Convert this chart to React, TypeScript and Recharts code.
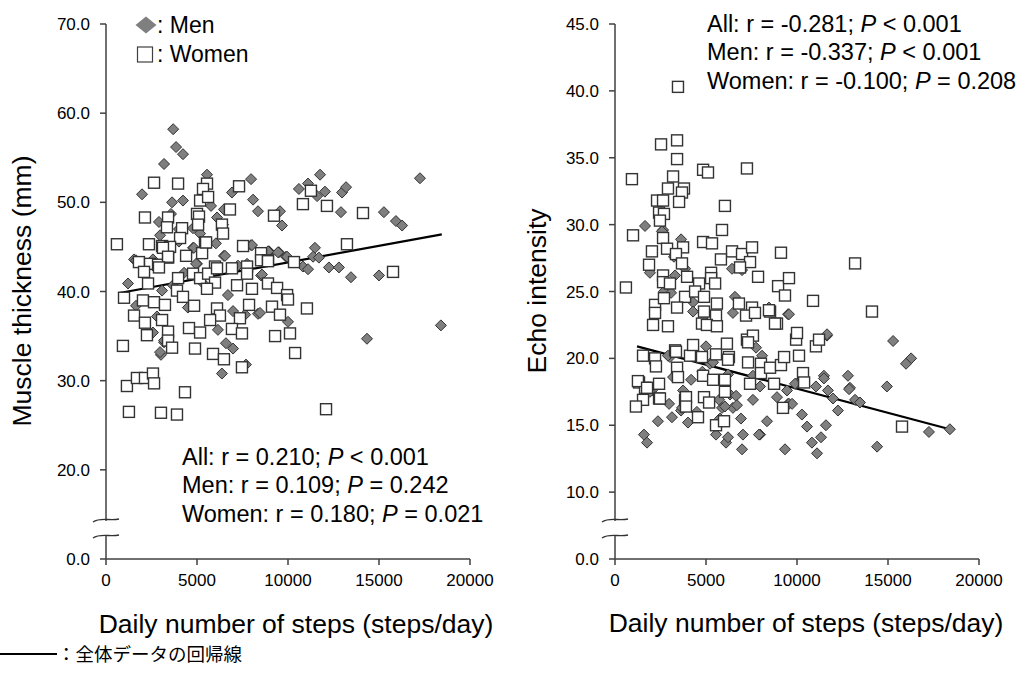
import React from 'react';
import { ScatterChart, Scatter, XAxis, YAxis, ReferenceLine } from 'recharts';

const FONT = '"Liberation Sans", Arial, sans-serif';

// x axis: daily steps
const stepTicks = [0, 5000, 10000, 15000, 20000];
// y axes: the lowest tick sits just under the axis break and is labelled 0.0
const thicknessTicks = [10, 20, 30, 40, 50, 60, 70];
const echoTicks = [5, 10, 15, 20, 25, 30, 35, 40, 45];
const thicknessBreakTick = 10;
const echoBreakTick = 5;

// [steps/day, muscle thickness mm]
const thicknessMen: [number, number][] = [
  [3690, 58.2], [3850, 56.2], [4230, 55.4], [3190, 54.3], [1980, 50.9], [3630, 50.0], [4230, 50.2],
  [5550, 53.1], [7970, 52.6], [8080, 50.3], [6920, 51.1], [8350, 49.0], [9560, 49.0], [9670, 47.4],
  [5770, 49.6], [3570, 48.7], [2910, 47.8], [4010, 47.0], [2970, 46.3], [6100, 48.3], [6430, 47.5],
  [6480, 49.2], [4780, 47.1], [6040, 45.4], [7970, 45.2], [8960, 44.5], [9500, 44.4], [4780, 44.9],
  [6480, 44.0], [1540, 43.6], [5000, 43.1], [8520, 41.8], [4290, 42.1], [1210, 40.9], [1650, 38.4],
  [6980, 37.8], [7640, 37.4], [8350, 37.5], [6150, 35.7], [2580, 35.4], [3190, 34.3], [3020, 32.9],
  [6590, 34.2], [6980, 33.6], [7690, 31.8], [6370, 30.8], [10000, 36.6], [11760, 53.1], [10600, 51.5],
  [11100, 52.1], [12030, 51.2], [11600, 50.7], [12970, 51.1], [13190, 51.7], [17250, 52.7], [12910, 48.9],
  [15270, 48.9], [15930, 47.9], [16270, 47.4], [11480, 44.9], [11380, 43.9], [11700, 43.8], [12250, 42.7],
  [12800, 42.7], [13460, 41.6], [15000, 41.8], [10820, 42.8], [11100, 42.5], [8950, 44.5], [9450, 44.4],
  [9890, 43.9], [18400, 36.2], [8460, 37.6], [14340, 34.7], [8570, 41.9], [1650, 43.5], [2580, 43.6],
  [4010, 45.6], [4830, 44.9], [5170, 46.5], [6540, 44.0], [4950, 43.1], [3680, 40.7], [3080, 40.1],
  [6700, 39.6], [7250, 42.9], [7750, 43.1], [8020, 45.2], [8900, 44.5], [9950, 43.9], [2970, 33.2],
  [3190, 34.5], [4500, 38.2], [5300, 41.0], [2800, 37.2],
];

const thicknessWomen: [number, number][] = [
  [2640, 52.2], [3960, 52.1], [2140, 48.3], [5170, 50.2], [5550, 52.1], [5330, 51.5], [5610, 50.6],
  [5000, 48.7], [5110, 48.4], [6810, 49.2], [7310, 51.8], [6370, 47.5], [3410, 48.3], [4180, 47.1],
  [600, 45.3], [2360, 45.3], [3350, 47.2], [4070, 46.0], [5060, 47.5], [5440, 45.5], [6430, 46.5],
  [7530, 45.1], [8520, 44.3], [9230, 48.5], [3080, 45.1], [3520, 45.0], [4400, 44.0], [5280, 44.3],
  [1810, 43.3], [2420, 43.1], [2860, 43.0], [2090, 42.2], [3410, 43.8], [5990, 42.8], [6920, 42.6],
  [7750, 42.8], [8520, 43.5], [8900, 43.5], [3130, 44.9], [3410, 43.9], [5500, 45.5], [8900, 43.4],
  [10330, 43.3], [2910, 42.7], [2310, 40.9], [3960, 41.5], [4780, 42.0], [5170, 41.5], [5610, 42.0],
  [6100, 42.6], [5990, 41.0], [7200, 40.7], [7750, 42.0], [8020, 40.3], [8900, 40.9], [9400, 40.4],
  [9950, 39.6], [10000, 39.1], [990, 39.3], [2030, 39.0], [2640, 38.8], [3240, 38.5], [3900, 40.1],
  [4230, 39.4], [4840, 38.4], [5550, 40.3], [6100, 38.1], [6260, 37.3], [7360, 37.0], [7860, 38.5],
  [9120, 38.3], [9560, 37.4], [11040, 38.1], [1540, 37.3], [2140, 36.5], [3080, 36.8], [3410, 35.5],
  [4560, 35.9], [5170, 35.4], [5720, 36.8], [6920, 35.8], [7470, 35.3], [2250, 35.1], [3410, 34.5],
  [3630, 33.7], [9290, 35.0], [10110, 35.3], [930, 33.9], [4890, 33.6], [5880, 33.0], [6480, 32.4],
  [10390, 33.1], [7470, 31.5], [1150, 29.4], [1700, 30.3], [2140, 30.3], [2580, 30.8], [2640, 29.7],
  [4340, 28.7], [1260, 26.5], [3020, 26.4], [3900, 26.2], [12090, 26.8], [11260, 51.3], [10820, 49.8],
  [12140, 49.6], [14120, 48.8], [13240, 45.3], [15770, 42.2],
];

// [steps/day, echo intensity]
const echoMen: [number, number][] = [
  [1650, 29.9], [2640, 29.6], [3630, 28.9], [3240, 27.6], [1920, 26.4], [3850, 26.7], [3300, 26.2],
  [6430, 26.7], [6980, 26.6], [2690, 25.0], [3080, 24.9], [4290, 24.2], [4290, 23.5], [6480, 23.4],
  [6590, 24.6], [8460, 23.8], [9510, 23.3], [2580, 29.5], [11650, 21.7], [5000, 20.9], [7750, 20.8],
  [8080, 20.2], [3020, 20.1], [5220, 19.6], [6210, 18.8], [4180, 18.4], [3190, 18.6], [2030, 17.6],
  [3740, 17.6], [2970, 16.6], [3630, 16.1], [5720, 16.9], [6320, 17.3], [6650, 17.2], [5880, 16.3],
  [6480, 16.3], [7580, 16.9], [7970, 17.9], [8900, 17.1], [9950, 18.1], [9510, 16.6], [10270, 15.8],
  [11040, 17.9], [11480, 18.7], [11700, 17.6], [12800, 18.7], [12910, 17.8], [12250, 16.1], [13190, 16.9],
  [2910, 20.2], [5390, 19.7], [7580, 18.7], [1920, 17.5], [3680, 16.3], [2360, 15.3], [3130, 15.6],
  [4010, 15.2], [1590, 14.3], [1760, 13.7], [5550, 14.3], [6100, 13.7], [6210, 14.1], [6700, 16.5],
  [6920, 15.5], [7030, 14.3], [6980, 13.2], [7970, 14.3], [8350, 15.3], [9560, 16.6], [9340, 13.2],
  [5770, 15.5], [6040, 16.4], [9560, 23.3], [11650, 21.8], [15280, 21.3], [16270, 20.0], [15990, 19.6],
  [12860, 17.7], [14940, 17.9], [11480, 18.5], [9890, 18.1], [9450, 17.6], [11980, 17.0], [13460, 16.7],
  [9730, 16.6], [10550, 14.9], [11590, 15.0], [11320, 14.1], [10820, 13.7], [11100, 12.9], [14400, 13.4],
  [17250, 14.5], [18400, 14.7], [7910, 14.3], [4800, 19.0], [4500, 16.0],
];

const echoWomen: [number, number][] = [
  [3460, 40.3], [3410, 36.3], [2530, 36.0], [3410, 34.9], [930, 33.4], [3190, 33.6], [4840, 34.1],
  [5110, 33.9], [2910, 32.7], [3790, 32.7], [3680, 32.4], [2310, 31.8], [2640, 31.8], [3520, 31.7],
  [6040, 31.4], [2420, 30.9], [2690, 30.8], [2470, 30.3], [5880, 29.6], [990, 29.2], [7250, 34.2],
  [2640, 29.0], [2030, 28.0], [2860, 28.2], [3740, 28.3], [3350, 27.8], [4840, 28.7], [5330, 28.6],
  [6430, 28.0], [6980, 27.8], [7530, 28.3], [7420, 27.2], [5820, 27.4], [9120, 27.9], [3680, 27.1],
  [1870, 27.0], [6870, 26.8], [600, 25.3], [2640, 26.2], [2640, 25.7], [3020, 25.6], [3960, 26.1],
  [5280, 26.4], [5280, 26.0], [5500, 25.6], [4620, 25.6], [7860, 26.1], [8960, 25.4], [9560, 26.0],
  [9340, 24.7], [2200, 24.0], [2200, 23.4], [2690, 24.5], [3850, 24.6], [4400, 25.0], [4890, 24.6],
  [5600, 24.1], [3410, 23.8], [4890, 23.5], [5550, 23.2], [6810, 24.1], [7530, 23.8], [7200, 23.2],
  [8520, 23.5], [8900, 22.6], [2090, 22.5], [2910, 22.4], [4780, 22.6], [5050, 22.5], [5600, 22.4],
  [1540, 20.2], [2200, 20.0], [2250, 19.4], [1320, 18.2], [1650, 17.8], [1540, 16.9], [1150, 16.4],
  [2420, 18.1], [2420, 17.0], [3300, 20.6], [3410, 19.3], [3460, 18.6], [3850, 16.9], [4120, 20.2],
  [4290, 21.0], [4840, 18.7], [4890, 17.1], [5170, 16.7], [5390, 18.4], [5550, 20.3], [6040, 18.4],
  [6040, 17.5], [6150, 21.1], [6260, 20.1], [7250, 21.4], [7310, 19.7], [7420, 18.1], [8020, 19.6],
  [8020, 18.9], [8520, 19.3], [9120, 19.5], [9290, 20.1], [8740, 18.1], [9230, 16.3], [9950, 21.4],
  [10110, 20.2], [10330, 18.9], [10390, 18.2], [11040, 20.9], [11210, 21.4], [7580, 21.7], [7310, 21.2],
  [8790, 22.6], [7690, 23.4], [8460, 23.6], [10880, 24.3], [13190, 27.1], [14120, 23.5], [10000, 21.9],
  [15770, 14.9], [5550, 15.0], [4560, 15.6], [5990, 15.3], [3350, 20.5], [4780, 20.1], [6210, 19.9],
  [1260, 18.3], [1760, 17.8], [3900, 17.1], [3900, 16.4], [2470, 17.0],
];

// regression lines for all data (start, end)
const thicknessFit: [number, number][] = [[660, 39.8], [18450, 46.4]];
const echoFit: [number, number][] = [[1210, 20.9], [18400, 14.7]];

const thicknessStats = [
  { group: 'All', r: '0.210', p: '< 0.001' },
  { group: 'Men', r: '0.109', p: '= 0.242' },
  { group: 'Women', r: '0.180', p: '= 0.021' },
];
const echoStats = [
  { group: 'All', r: '-0.281', p: '< 0.001' },
  { group: 'Men', r: '-0.337', p: '< 0.001' },
  { group: 'Women', r: '-0.100', p: '= 0.208' },
];

const toPoints = (rows: [number, number][]) => rows.map(([x, y]) => ({ x, y }));

const Diamond = (props: any) => {
  const { cx, cy } = props;
  if (cx == null || cy == null) return <g />;
  const r = 5.5;
  return (
    <path
      d={`M${cx},${cy - r}L${cx + r},${cy}L${cx},${cy + r}L${cx - r},${cy}Z`}
      fill="#7f7f7f"
      stroke="#333"
      strokeWidth={1}
    />
  );
};

const Square = (props: any) => {
  const { cx, cy } = props;
  if (cx == null || cy == null) return <g />;
  return <rect x={cx - 5.5} y={cy - 5.5} width={11} height={11} fill="#fff" stroke="#333" strokeWidth={1.4} />;
};

const axisStroke = { stroke: '#404040', strokeWidth: 1.5 };
const tickStyle = { fill: '#000', fontSize: 17, fontFamily: FONT };

interface PanelProps {
  left: number;
  width: number;
  marginLeft: number;
  marginRight: number;
  men: [number, number][];
  women: [number, number][];
  fit: [number, number][];
  yDomain: [number, number];
  yTicks: number[];
  breakTick: number;
}

function Panel({ left, width, marginLeft, marginRight, men, women, fit, yDomain, yTicks, breakTick }: PanelProps) {
  return (
    <div style={{ position: 'absolute', left, top: 0 }}>
      <ScatterChart
        width={width}
        height={682}
        margin={{ top: 24, right: marginRight, bottom: 93, left: marginLeft }}
      >
        <XAxis
          type="number"
          dataKey="x"
          domain={[0, 20000]}
          ticks={stepTicks}
          interval={0}
          height={30}
          axisLine={axisStroke}
          tickLine={axisStroke}
          tickSize={6}
          tickMargin={9}
          tick={tickStyle}
        />
        <YAxis
          type="number"
          dataKey="y"
          domain={yDomain}
          ticks={yTicks}
          interval={0}
          width={60}
          axisLine={axisStroke}
          tickLine={axisStroke}
          tickSize={6}
          tickMargin={10}
          tick={tickStyle}
          tickFormatter={(v: number) => (v === breakTick ? '0.0' : v.toFixed(1))}
        />
        <Scatter data={toPoints(men)} shape={Diamond} isAnimationActive={false} />
        <Scatter data={toPoints(women)} shape={Square} isAnimationActive={false} />
        <ReferenceLine
          segment={[
            { x: fit[0][0], y: fit[0][1] },
            { x: fit[1][0], y: fit[1][1] },
          ]}
          stroke="#000"
          strokeWidth={2.2}
        />
      </ScatterChart>
    </div>
  );
}

const BreakMark = ({ x, y }: { x: number; y: number }) => (
  <g fill="none" stroke="#333" strokeWidth={1.3}>
    <rect x={x - 6} y={y + 2} width={12} height={14} fill="#fff" stroke="none" />
    <path d={`M${x - 13},${y + 3} C${x - 6},${y - 2} ${x + 4},${y + 2} ${x + 13},${y}`} />
    <path d={`M${x - 13},${y + 19} C${x - 6},${y + 14} ${x + 4},${y + 18} ${x + 13},${y + 16}`} />
  </g>
);

const StatsText = ({ x, y, rows }: { x: number; y: number; rows: typeof thicknessStats }) => (
  <text x={x} y={y} fontSize={23.5} fontFamily={FONT} fill="#000">
    {rows.map((row, i) => (
      <tspan key={row.group} x={x} y={y + i * 28.3}>
        {`${row.group}: r = ${row.r}; `}
        <tspan fontStyle="italic">P</tspan>
        {` ${row.p}`}
      </tspan>
    ))}
  </text>
);

export default function App() {
  return (
    <div style={{ position: 'absolute', left: 0, top: 0, width: 1023, height: 682, background: '#fff', fontFamily: FONT }}>
      <Panel
        left={0}
        width={511}
        marginLeft={46}
        marginRight={41}
        men={thicknessMen}
        women={thicknessWomen}
        fit={thicknessFit}
        yDomain={[10, 70]}
        yTicks={thicknessTicks}
        breakTick={thicknessBreakTick}
      />
      <Panel
        left={511}
        width={512}
        marginLeft={44}
        marginRight={44}
        men={echoMen}
        women={echoWomen}
        fit={echoFit}
        yDomain={[5, 45]}
        yTicks={echoTicks}
        breakTick={echoBreakTick}
      />
      <svg width={1023} height={682} style={{ position: 'absolute', left: 0, top: 0, pointerEvents: 'none' }}>
        <BreakMark x={106} y={519} />
        <BreakMark x={615} y={519} />

        {/* legend */}
        <path d="M146,16.5L156.5,25L146,33.5L135.5,25Z" fill="#7f7f7f" />
        <text x={157} y={33} fontSize={23} fontFamily={FONT} fill="#000">: Men</text>
        <rect x={137.5} y={47} width={15} height={15} fill="#fff" stroke="#404040" strokeWidth={1.2} />
        <text x={157} y={62} fontSize={23} fontFamily={FONT} fill="#000">: Women</text>

        <StatsText x={182} y={465} rows={thicknessStats} />
        <StatsText x={707} y={32} rows={echoStats} />

        {/* axis titles */}
        <text x={296} y={633} fontSize={26.5} fontFamily={FONT} textAnchor="middle" fill="#000">
          Daily number of steps (steps/day)
        </text>
        <text x={806} y={632} fontSize={26.5} fontFamily={FONT} textAnchor="middle" fill="#000">
          Daily number of steps (steps/day)
        </text>
        <text transform="translate(31,291) rotate(-90)" fontSize={26.5} fontFamily={FONT} textAnchor="middle" fill="#000">
          Muscle thickness (mm)
        </text>
        <text transform="translate(546,291) rotate(-90)" fontSize={26.5} fontFamily={FONT} textAnchor="middle" fill="#000">
          Echo intensity
        </text>

        {/* footnote */}
        <line x1={0} y1={654} x2={57} y2={654} stroke="#000" strokeWidth={2} />
        <text x={57} y={660.5} fontSize={18.5} fontFamily={'"Noto Sans CJK JP", sans-serif'} fill="#000">
          ：全体データの回帰線
        </text>
      </svg>
    </div>
  );
}
